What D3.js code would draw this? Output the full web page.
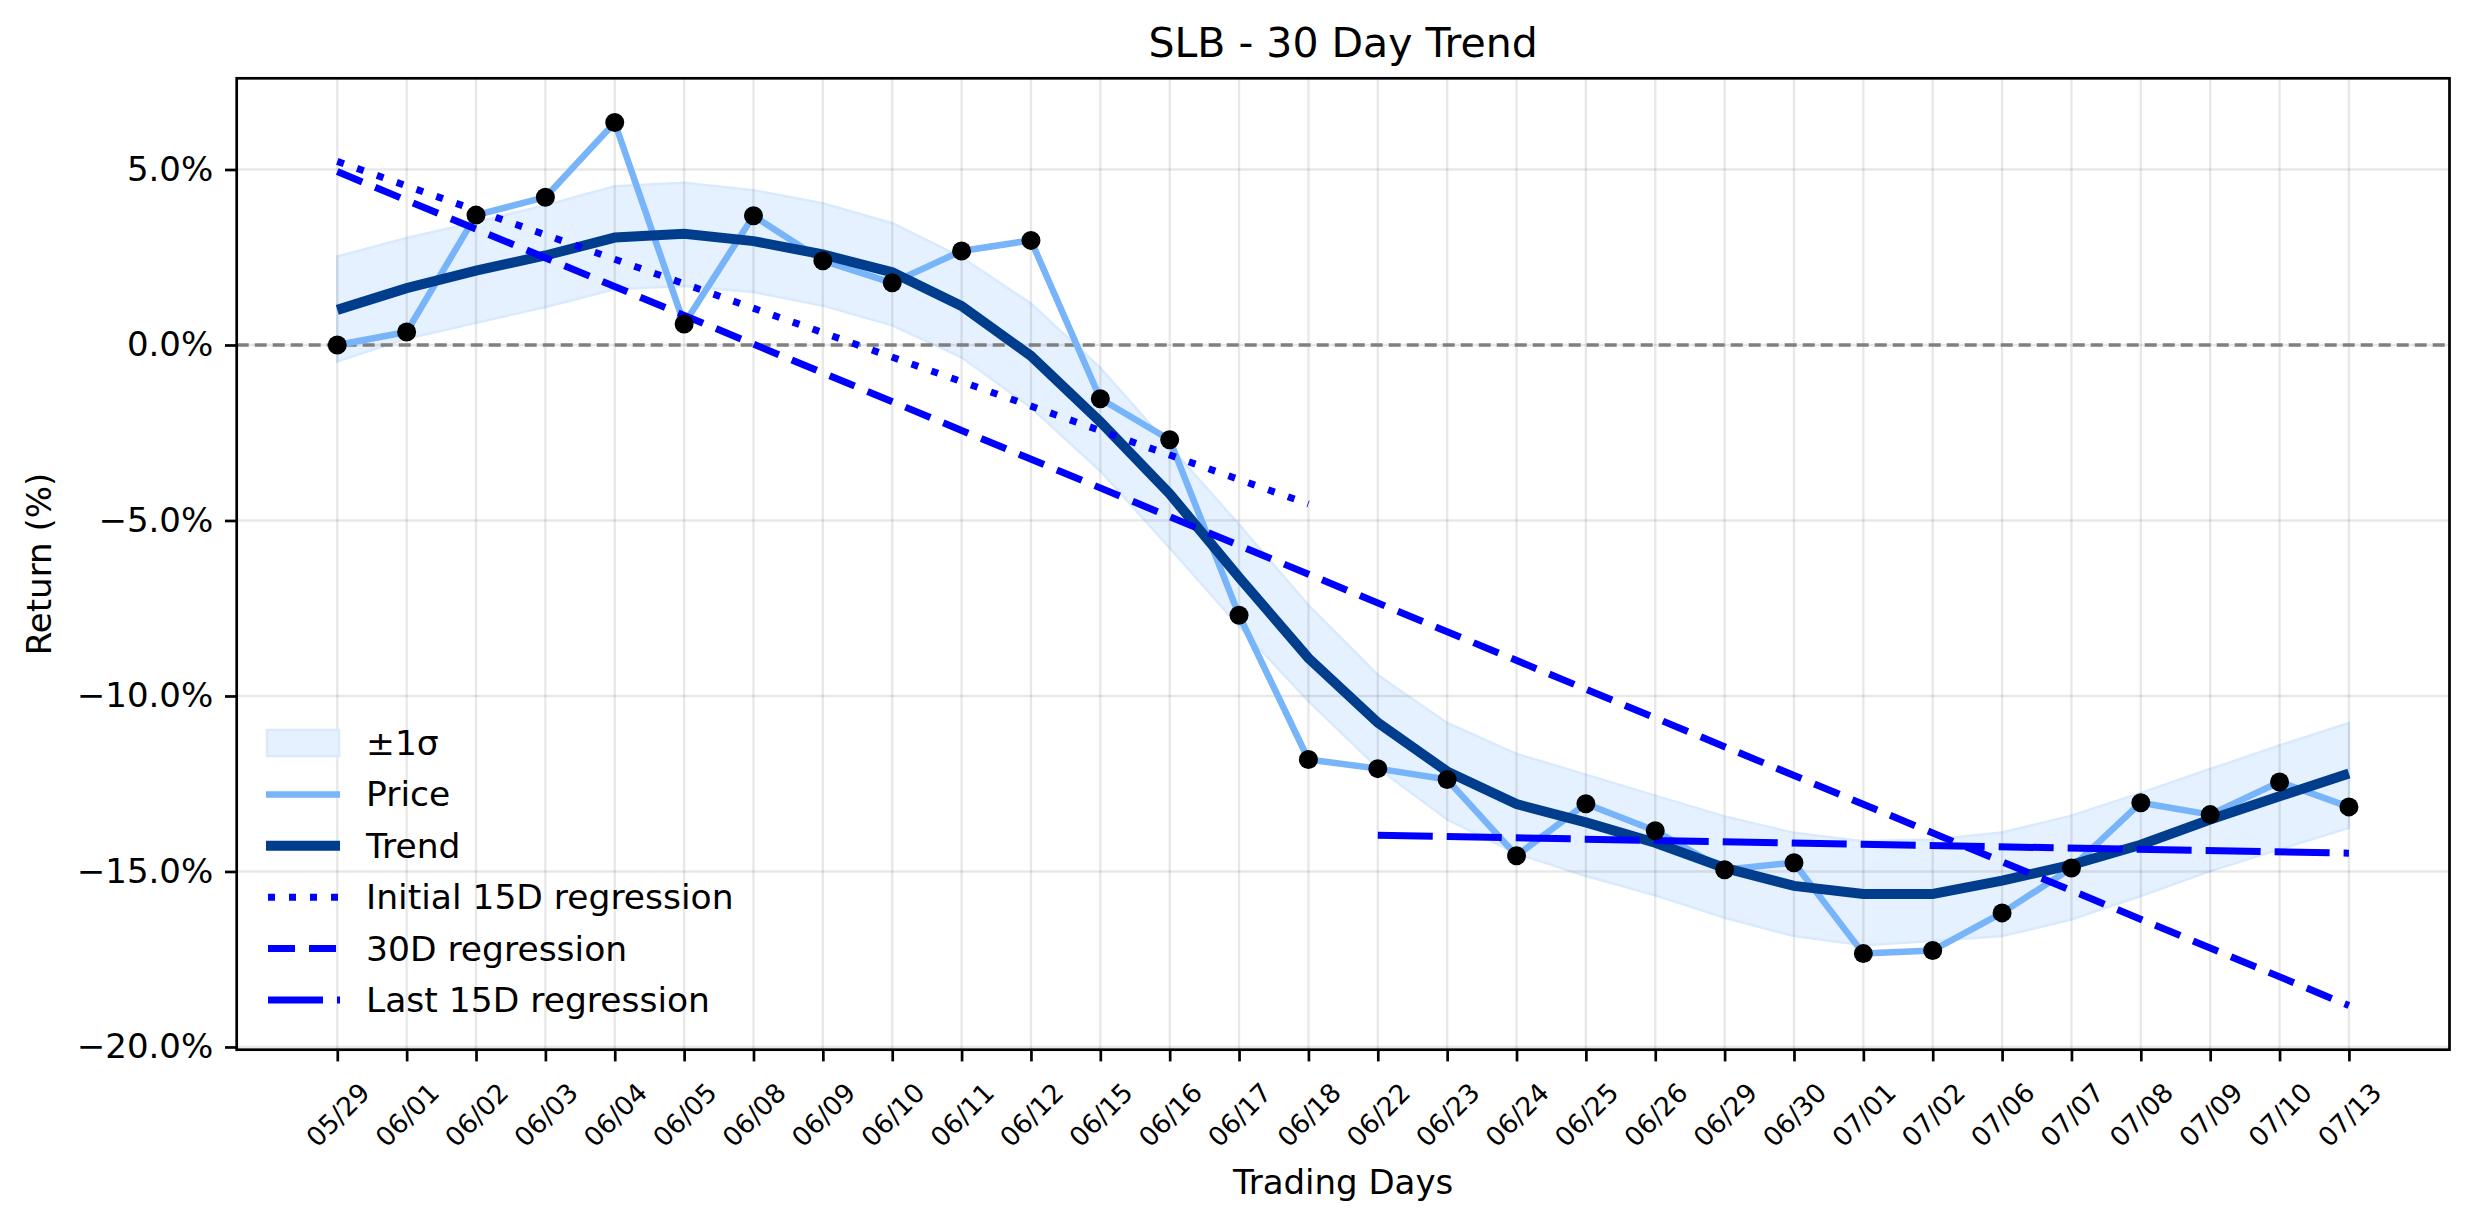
<!DOCTYPE html>
<html>
<head>
<meta charset="utf-8">
<script src="https://cdn.jsdelivr.net/npm/d3@7"></script>
<style>
  html, body { margin: 0; padding: 0; background: #fff; }
  svg { display: block; font-family: "DejaVu Sans", sans-serif; }
</style>
</head>
<body>
<svg id="chart" width="2474" height="1224"></svg>
<script>
// ---- data ----
const dates = ["05/29","06/01","06/02","06/03","06/04","06/05","06/08","06/09","06/10","06/11",
  "06/12","06/15","06/16","06/17","06/18","06/22","06/23","06/24","06/25","06/26",
  "06/29","06/30","07/01","07/02","07/06","07/07","07/08","07/09","07/10","07/13"];
const price = [0.00, 0.37, 3.70, 4.21, 6.34, 0.60, 3.68, 2.40, 1.77, 2.68,
  2.98, -1.53, -2.70, -7.70, -11.81, -12.07, -12.38, -14.55, -13.07, -13.84,
  -14.95, -14.75, -17.34, -17.25, -16.18, -14.90, -13.04, -13.38, -12.45, -13.16];
const trend = [1.00, 1.62, 2.12, 2.55, 3.06, 3.17, 2.96, 2.58, 2.07, 1.11,
  -0.31, -2.19, -4.24, -6.62, -8.92, -10.76, -12.15, -13.08, -13.60, -14.18,
  -14.90, -15.41, -15.64, -15.64, -15.26, -14.81, -14.24, -13.52, -12.86, -12.21];
const bandUpper = [2.52, 3.05, 3.50, 3.98, 4.52, 4.62, 4.41, 4.04, 3.47, 2.50,
  1.18, -0.65, -2.88, -5.12, -7.41, -9.40, -10.77, -11.65, -12.24, -12.84,
  -13.43, -13.90, -14.14, -14.09, -13.89, -13.41, -12.76, -12.08, -11.41, -10.77];
const bandLower = [-0.47, 0.18, 0.63, 1.08, 1.59, 1.68, 1.51, 1.12, 0.56, -0.35,
  -1.78, -3.59, -5.78, -8.02, -10.15, -12.05, -13.52, -14.49, -15.13, -15.68,
  -16.32, -16.84, -17.10, -16.98, -16.84, -16.37, -15.70, -14.99, -14.37, -13.76];
// regression lines: [startIndex, endIndex], [startValue, endValue]
const initialRegX = [0, 14], initialRegY = [5.23, -4.53];
const fullRegX = [0, 29], fullRegY = [4.94, -18.82];
const lastRegX = [15, 29], lastRegY = [-13.97, -14.48];
const yTicks = [5, 0, -5, -10, -15, -20];
const legendLabels = ["±1σ", "Price", "Trend", "Initial 15D regression", "30D regression", "Last 15D regression"];

// ---- layout ----
const L = 236.7, R = 2449.5, T = 78.3, B = 1049.7;
const svg = d3.select("#chart");

const n = dates.length;
const xPad = (n - 1) * 0.05;
const x = d3.scaleLinear().domain([-xPad, n - 1 + xPad]).range([L, R]);
const allY = [].concat(price, trend, bandUpper, bandLower, initialRegY, fullRegY, lastRegY);
const yMin = d3.min(allY), yMax = d3.max(allY), yPad = (yMax - yMin) * 0.05;
const y = d3.scaleLinear().domain([yMin - yPad, yMax + yPad]).range([B, T]);

const idx = d3.range(n);

// band
const area = d3.area().x(i => x(i)).y0(i => y(bandLower[i])).y1(i => y(bandUpper[i]));
svg.append("path").datum(idx).attr("d", area)
  .attr("fill", "#e5f1fe").attr("stroke", "#d9eafd").attr("stroke-width", 2.5);

// grid
const grid = svg.append("g");
grid.selectAll("line.v").data(idx).join("line")
  .attr("x1", i => x(i)).attr("x2", i => x(i)).attr("y1", T).attr("y2", B)
  .attr("stroke", "#000").attr("stroke-opacity", 0.09).attr("stroke-width", 2.4);
grid.selectAll("line.h").data(yTicks).join("line")
  .attr("x1", L).attr("x2", R).attr("y1", d => y(d)).attr("y2", d => y(d))
  .attr("stroke", "#000").attr("stroke-opacity", 0.09).attr("stroke-width", 2.4);

// zero line
svg.append("line").attr("x1", L).attr("x2", R).attr("y1", y(0)).attr("y2", y(0))
  .attr("stroke", "#808080").attr("stroke-width", 3.6).attr("stroke-dasharray", "12,6");

const line = d3.line().x(d => x(d[0])).y(d => y(d[1]));

// price
svg.append("path").datum(idx.map(i => [i, price[i]])).attr("d", line)
  .attr("fill", "none").attr("stroke", "#78b4fa").attr("stroke-width", 6.5)
  .attr("stroke-linejoin", "round");
// trend
svg.append("path").datum(idx.map(i => [i, trend[i]])).attr("d", line)
  .attr("fill", "none").attr("stroke", "#003d8c").attr("stroke-width", 10);

// regressions
const regStyles = [
  {xs: initialRegX, ys: initialRegY, dash: "7,14"},
  {xs: fullRegX, ys: fullRegY, dash: "27,14"},
  {xs: lastRegX, ys: lastRegY, dash: "55,14"}
];
regStyles.forEach(r => {
  svg.append("path").datum([[r.xs[0], r.ys[0]], [r.xs[1], r.ys[1]]]).attr("d", line)
    .attr("fill", "none").attr("stroke", "#0000ff").attr("stroke-width", 7)
    .attr("stroke-dasharray", r.dash);
});

// price markers
svg.selectAll("circle.pt").data(idx).join("circle")
  .attr("cx", i => x(i)).attr("cy", i => y(price[i])).attr("r", 9.5).attr("fill", "#000");

// spines
svg.append("rect").attr("x", L).attr("y", T).attr("width", R - L).attr("height", B - T)
  .attr("fill", "none").attr("stroke", "#000").attr("stroke-width", 2.7);

// axes
const xAxis = d3.axisBottom(x).tickValues(idx).tickFormat(i => dates[i]).tickSizeOuter(0).tickSize(11.7);
const gx = svg.append("g").attr("transform", `translate(0,${B})`).call(xAxis);
gx.select(".domain").remove();
gx.selectAll(".tick line").attr("stroke", "#000").attr("stroke-width", 2.7);
gx.selectAll(".tick text")
  .attr("font-size", 26.5).attr("fill", "#000").attr("font-family", "DejaVu Sans")
  .attr("text-anchor", "middle").attr("dominant-baseline", "central")
  .attr("x", 0).attr("y", 0).attr("dy", null)
  .attr("transform", "translate(0,65) rotate(-45)");

const fmt = v => (v < 0 ? "\u2212" : "") + Math.abs(v).toFixed(1) + "%";
const yAxis = d3.axisLeft(y).tickValues(yTicks).tickFormat(fmt).tickSizeOuter(0).tickSize(11.7).tickPadding(11.7);
const gy = svg.append("g").attr("transform", `translate(${L},0)`).call(yAxis);
gy.select(".domain").remove();
gy.selectAll(".tick line").attr("stroke", "#000").attr("stroke-width", 2.7);
gy.selectAll(".tick text").attr("font-size", 34).attr("fill", "#000")
  .attr("font-family", "DejaVu Sans");

// labels
svg.append("text").attr("x", (L + R) / 2).attr("y", 57.3).attr("text-anchor", "middle")
  .attr("font-size", 41).text("SLB - 30 Day Trend");
svg.append("text").attr("x", (L + R) / 2).attr("y", 1194).attr("text-anchor", "middle")
  .attr("font-size", 34).text("Trading Days");
svg.append("text").attr("transform", `translate(39,${(T + B) / 2}) rotate(-90)`)
  .attr("text-anchor", "middle").attr("dominant-baseline", "central")
  .attr("font-size", 34).text("Return (%)");

// legend
const lg = svg.append("g");
const rowY0 = 743, rowH = 51.4, hx0 = 266, hx1 = 340, tx = 366;
legendLabels.forEach((lab, k) => {
  const cy = rowY0 + k * rowH;
  if (k === 0) {
    lg.append("rect").attr("x", hx0 + 1).attr("y", cy - 13).attr("width", hx1 - hx0 - 2).attr("height", 26)
      .attr("fill", "#e5f1fe").attr("stroke", "#d9eafd").attr("stroke-width", 2.5);
  } else {
    const st = [null,
      {c: "#78b4fa", w: 6.5, d: null},
      {c: "#003d8c", w: 10, d: null},
      {c: "#0000ff", w: 7, d: "7,14"},
      {c: "#0000ff", w: 7, d: "27,14"},
      {c: "#0000ff", w: 7, d: "55,14"}][k];
    const x0 = k >= 3 ? 268 : hx0, x1 = hx1;
    lg.append("line").attr("x1", x0).attr("x2", x1).attr("y1", cy).attr("y2", cy)
      .attr("stroke", st.c).attr("stroke-width", st.w).attr("stroke-dasharray", st.d);
  }
  lg.append("text").attr("x", tx).attr("y", cy).attr("dominant-baseline", "central")
    .attr("font-size", 34.5).text(lab);
});
</script>
</body>
</html>
